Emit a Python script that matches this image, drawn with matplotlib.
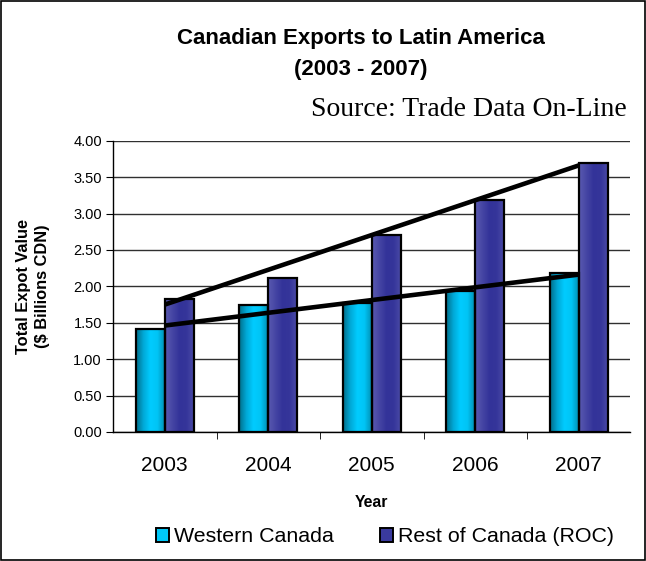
import numpy as np
import matplotlib
matplotlib.use("Agg")
import matplotlib.pyplot as plt
from matplotlib.colors import LinearSegmentedColormap
from matplotlib.patches import Rectangle

# export values, $ billions CDN
years = ["2003", "2004", "2005", "2006", "2007"]
western = [1.41, 1.75, 1.77, 1.94, 2.19]
rest_of_canada = [1.83, 2.12, 2.71, 3.18, 3.69]
series_names = ["Western Canada", "Rest of Canada (ROC)"]

plt.rcParams["font.family"] = ["Liberation Sans", "DejaVu Sans"]

fig = plt.figure(figsize=(6.46, 5.61), dpi=100)
ax = fig.add_axes([0.175, 0.23, 0.801, 0.519])

x = np.arange(len(years))
w = 0.28

cyan_map = LinearSegmentedColormap.from_list(
    "cy", ["#006F8A", "#00A8D6", "#00CCFF", "#00C4F5", "#0090B4"])
blue_map = LinearSegmentedColormap.from_list(
    "bl", ["#5A5AB0", "#4646A4", "#333399", "#35359A", "#4A4AA6"])
grad = np.linspace(0, 1, 64).reshape(1, -1)

def gradient_bars(xs, vals, cmap, color):
    bars = ax.bar(xs, vals, w, facecolor="none", edgecolor="black",
                  linewidth=1.6, zorder=4)
    for b in bars:
        x0, y0 = b.get_x(), b.get_y()
        ax.imshow(grad, cmap=cmap, aspect="auto", zorder=3,
                  extent=[x0, x0 + b.get_width(), y0, y0 + b.get_height()])
    return Rectangle((0, 0), 1, 1, facecolor=color, edgecolor="black", linewidth=1.4)

h1 = gradient_bars(x - w / 2, western, cyan_map, "#00C8F8")
h2 = gradient_bars(x + w / 2, rest_of_canada, blue_map, "#3A3A9E")

# linear trend lines for each series
for vals in (western, rest_of_canada):
    k, b = np.polyfit(x, vals, 1)
    ax.plot(x, k * x + b, color="black", linewidth=3.3, zorder=5,
            solid_capstyle="butt")

ax.set_xlim(-0.5, len(years) - 0.5)
ax.set_ylim(0, 4)
ax.set_yticks(np.arange(0, 4.01, 0.5))
ax.set_yticklabels([f"{v:.2f}" for v in np.arange(0, 4.01, 0.5)], fontsize=10.5)
ax.set_xticks(x)
ax.set_xticklabels(years, fontsize=15)
ax.set_xticks(np.arange(0.5, len(years) - 1, 1), minor=True)
ax.tick_params(axis="x", which="major", length=0, pad=17)
ax.tick_params(axis="x", which="minor", length=5, direction="out", color="black")
ax.tick_params(axis="y", length=5, direction="out", pad=3)

ax.grid(axis="y", color="#303030", linewidth=1.0, zorder=1)
ax.set_axisbelow(True)
for s in ("top", "right"):
    ax.spines[s].set_visible(False)
ax.spines["left"].set_linewidth(1.0)
ax.spines["bottom"].set_linewidth(1.0)

ax.set_xlabel("Year", fontsize=11.3, fontweight="bold", labelpad=15)
ax.set_ylabel("Total Expot Value\n($ Billions CDN)", fontsize=11.8,
              fontweight="bold", linespacing=1.35)
ax.yaxis.set_label_coords(-0.122, 0.5)

fig.text(0.559, 0.904, "Canadian Exports to Latin America\n(2003 - 2007)",
         ha="center", va="center", fontsize=16, fontweight="bold",
         linespacing=1.6)
fig.text(0.726, 0.804, "Source: Trade Data On-Line", ha="center", va="center",
         fontsize=20, family=["Liberation Serif", "DejaVu Serif"])

fig.legend([h1, h2], series_names, loc="center", bbox_to_anchor=(0.596, 0.043),
           ncol=2, frameon=False, fontsize=15.4, handlelength=0.6,
           handleheight=0.6, handletextpad=0.2, columnspacing=2.2)

# outer chart border
fig.add_artist(Rectangle((0.002, 0.002), 0.996, 0.996, transform=fig.transFigure,
                         fill=False, edgecolor="black", linewidth=1.2))

fig.savefig("out.png", dpi=100)
